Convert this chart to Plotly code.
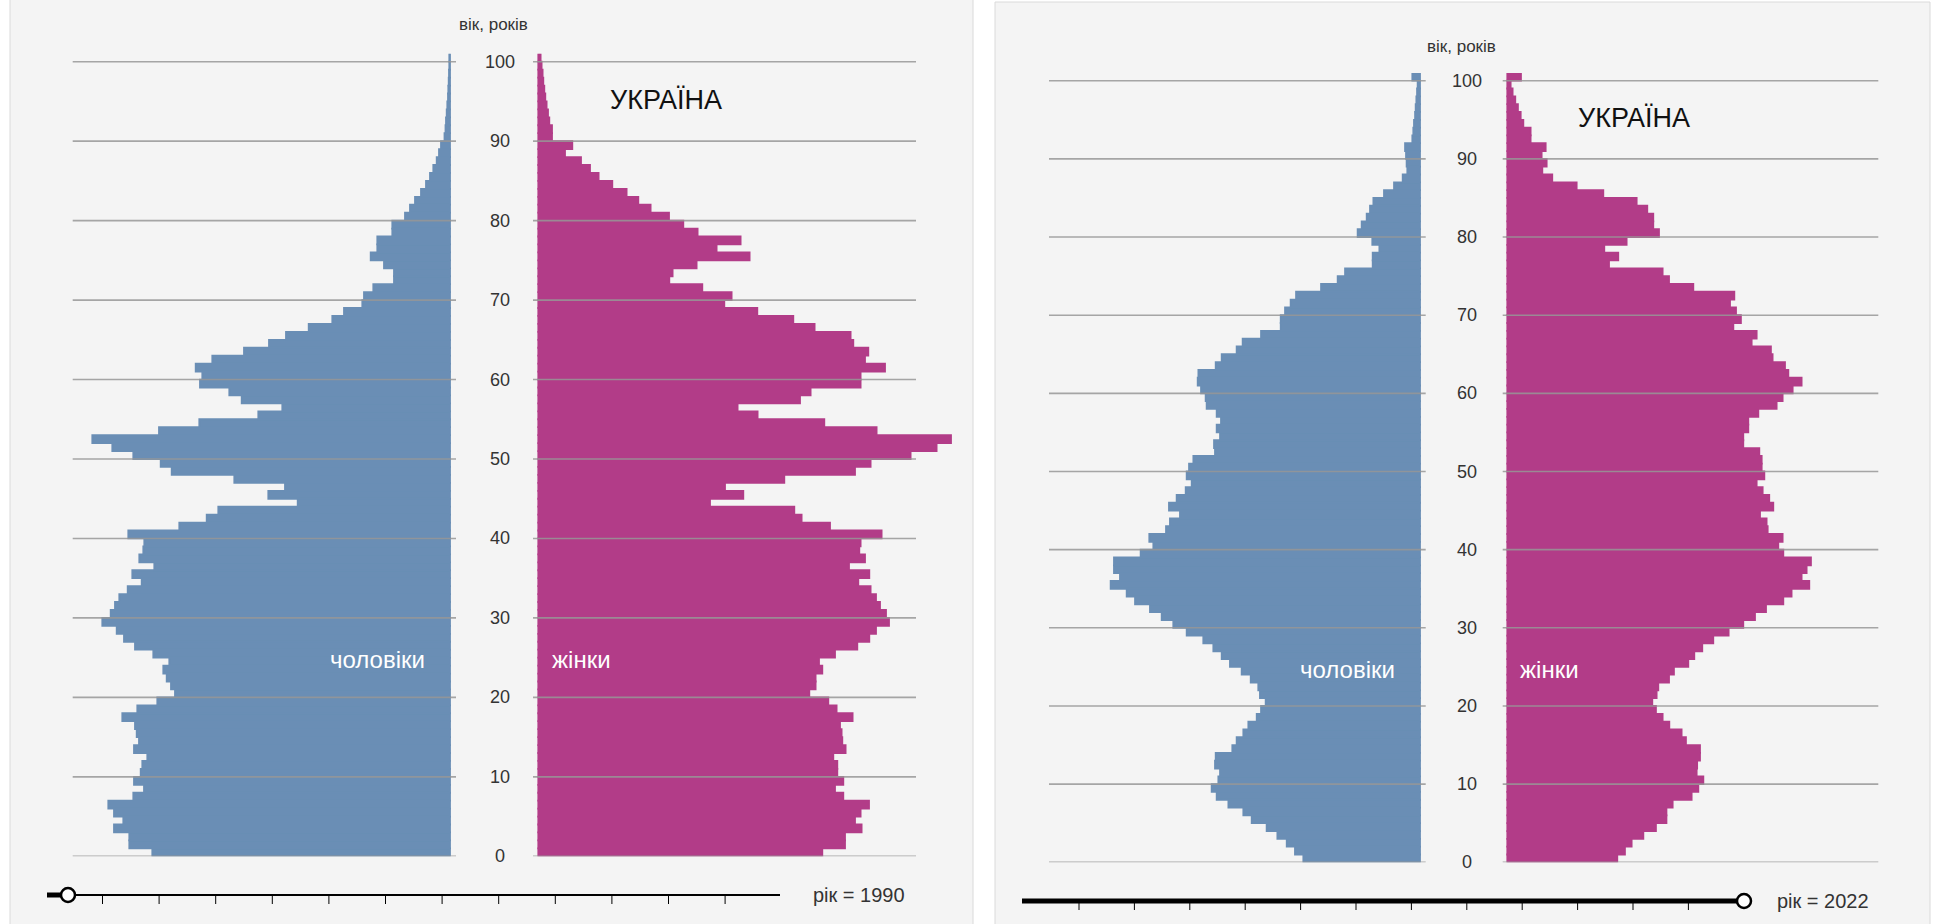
import plotly.graph_objects as go

W, H = 1944, 924

# ---------------- data (thousand persons, by single year of age 0..100) ----------------
ages = list(range(0, 101))
age_ticks = [0, 10, 20, 30, 40, 50, 60, 70, 80, 90, 100]

male_1990 = [297.7, 320.7, 320.7, 336, 326.7, 336, 341.7, 316.7, 306, 316,
             309.3, 307.7, 302.7, 316, 311, 313.3, 315, 327.7, 312.7, 292.7,
             275, 279, 283.3, 286.7, 280.7, 296.7, 315, 326, 333.3, 347.7,
             339.3, 335, 330.7, 322.3, 308.3, 317.7, 295.7, 310.7, 306.7, 305.7,
             321.7, 270.7, 243.3, 231.7, 152.3, 181.7, 165, 215.7, 278.3, 289.3,
             316.7, 337.7, 357.7, 291, 250.7, 191.7, 167.7, 208.3, 220.7, 250,
             247.7, 254.3, 237.7, 206, 181, 164, 141.3, 117.7, 106, 87.7,
             86, 76.7, 56, 56, 66, 79.3, 72.7, 72.7, 57.7, 57.7,
             45, 40, 35, 29, 24, 20, 16.7, 13.3, 11, 9,
             5.5, 4.5, 4, 3.3, 2.7, 2, 1.7, 1.3, 1, 0.7, 0.7]

female_1990 = [284, 306.7, 306.7, 323.3, 316.7, 322.3, 330.7, 305, 296.7, 305,
               299, 299, 295, 307.3, 304, 303.3, 301.7, 314.3, 298.3, 290,
               271, 277.3, 277.3, 284, 280.7, 296.7, 319, 331, 337.7, 350.7,
               347.7, 341.7, 337.7, 332.3, 320, 331, 310.7, 326.7, 321, 322.3,
               343.3, 291.7, 263.3, 256, 171.7, 205, 186.7, 246, 316.7, 332.3,
               372.3, 398.3, 412.7, 338.3, 286, 219.3, 199.3, 261.7, 272.3, 322.3,
               322.3, 346.7, 326.7, 330, 315, 312.3, 276.3, 255, 219, 186,
               193.3, 164, 131, 134.3, 158.3, 211.3, 178.3, 202.3, 159.3, 145,
               130.7, 112.3, 100, 88.3, 74, 60.3, 51.7, 42.7, 26.7, 34,
               13.7, 13.7, 11, 9.7, 8.3, 7, 6, 5, 4.3, 3.3, 2.3]

male_2022 = [118.6, 127.1, 135.5, 145, 155.9, 171.1, 179.6, 194.8, 206.7, 211.8,
             205, 203.3, 208.4, 207.7, 190.8, 186.4, 179.6, 174.5, 166, 161.6,
             156.9, 162.7, 164.4, 172.1, 181.3, 193.2, 201.6, 210.1, 220.3, 237.2,
             250.8, 262.6, 274.5, 289.7, 298.2, 314.5, 305, 311.1, 311.1, 284,
             271.1, 275.2, 258.2, 254.2, 244, 255.2, 247.4, 238.2, 232.1, 237.2,
             234.8, 230.4, 208.4, 209.4, 203.3, 206.7, 202.3, 206.7, 216.9, 217.9,
             222.6, 226, 225.3, 207.7, 201.6, 186.4, 180.3, 161.6, 141.6, 141.6,
             137.2, 131.5, 126, 100.6, 83.7, 76.2, 48.1, 48.1, 41.3, 48.5,
             63.4, 59.3, 54.2, 50.8, 47.4, 36.6, 26.4, 17.6, 12.9, 13.6,
             14.2, 15.2, 7.8, 6.8, 6.1, 5, 4.4, 3.7, 3, 2.4, 7.8]

female_2022 = [111.8, 119.6, 126.4, 138.3, 151.1, 161.8, 161.8, 168.1, 187.4, 194.2,
               199.3, 192.5, 193, 195.9, 195.9, 181.6, 177.2, 164.7, 157.9, 151.1,
               147.4, 151.8, 153.5, 164.4, 169.4, 184, 190.1, 198.2, 209.4, 225,
               239.9, 251.8, 263, 280.6, 289, 307, 299.2, 304.3, 308.7, 280.6,
               275.5, 279.9, 264.7, 263.6, 256.9, 270.4, 266.3, 259.6, 253.5, 261.3,
               258.6, 258.6, 256.2, 239.9, 239.9, 245, 245, 255.2, 273.8, 279.9,
               290.1, 299.2, 285.7, 282.3, 269.7, 268, 248.4, 253.5, 229.8, 237.5,
               232.5, 226.4, 230.8, 189.1, 164.4, 157.9, 103.4, 112.8, 98.6, 121.3,
               154.2, 148.4, 148.4, 142.3, 131.5, 97.6, 70.5, 45.7, 35.6, 40,
               34.9, 39, 23.7, 23.7, 16.3, 13.6, 10.8, 8.1, 5.4, 3.4, 13.9]

years = [1990, 2022]
title_text = "УКРАЇНА"
axis_title = "вік, років"
male_label = "чоловіки"
female_label = "жінки"

# ---------------- styling ----------------
MALE_COLOR = "#6a8eb5"
FEMALE_COLOR = "#b23c88"
GRID_COLOR = "rgba(150,150,150,0.85)"
PANEL_BG = "#f4f4f4"
FONT = "Liberation Sans, Arial, sans-serif"
TEXT = "#333333"


def X(px):
    return px / W


def Y(py):
    return 1 - py / H


fig = go.Figure()

panels = [
    dict(m_grid=(72.7, 456.0), m_dom=(20.0, 456.0), m_zero=450.0,
         f_grid=(533.0, 916.0), f_dom=(533.0, 972.0), f_zero=538.3,
         y_zero=856.3, ppy=7.946, male=male_1990, female=female_1990,
         tick_x=500, ax_title_y=25, title_x=608, lbl_y=659, m_lbl_x=427, f_lbl_x=550,
         title_y=100),
    dict(m_grid=(1049.0, 1425.7), m_dom=(1000.0, 1425.7), m_zero=1420.0,
         f_grid=(1502.7, 1878.3), f_dom=(1502.7, 1928.0), f_zero=1507.3,
         y_zero=862.3, ppy=7.816, male=male_2022, female=female_2022,
         tick_x=1467, ax_title_y=46, title_x=1576, lbl_y=669, m_lbl_x=1397, f_lbl_x=1518,
         title_y=118),
]

base_ppu = 1.0  # px per thousand in the left panel
layout_axes = {}
shapes = []
annotations = []

for i, p in enumerate(panels):
    scale = base_ppu * p["ppy"] / panels[0]["ppy"]
    ytop = p["y_zero"] - 101 * p["ppy"]
    ydom = [Y(p["y_zero"]), Y(ytop)]
    xm, xf = 2 * i + 1, 2 * i + 2
    for k, side in ((xm, "m"), (xf, "f")):
        xname = "xaxis" if k == 1 else f"xaxis{k}"
        yname = "yaxis" if k == 1 else f"yaxis{k}"
        xr = "x" if k == 1 else f"x{k}"
        yr = "y" if k == 1 else f"y{k}"
        dom = p[f"{side}_dom"]
        zero = p[f"{side}_zero"]
        if side == "m":
            rng = [(zero - dom[0]) / scale, -(dom[1] - zero) / scale]
        else:
            rng = [-(zero - dom[0]) / scale, (dom[1] - zero) / scale]
        layout_axes[xname] = dict(domain=[X(dom[0]), X(dom[1])], range=rng,
                                  anchor=yr, showgrid=False, zeroline=False,
                                  showticklabels=False, showline=False, ticks="",
                                  fixedrange=True)
        layout_axes[yname] = dict(domain=ydom, range=[0, 101], anchor=xr,
                                  showgrid=False, zeroline=False, showticklabels=False,
                                  showline=False, ticks="", fixedrange=True)
        vals = p["male"] if side == "m" else p["female"]
        col = MALE_COLOR if side == "m" else FEMALE_COLOR
        fig.add_trace(go.Bar(
            x=vals, y=ages, orientation="h", width=1, offset=0,
            marker=dict(color=col, line=dict(width=1.8, color=col)),
            xaxis=xr, yaxis=yr, showlegend=False, hoverinfo="x+y"))
        # grid lines drawn above the bars
        g0, g1 = p[f"{side}_grid"]
        for t in age_ticks:
            shapes.append(dict(type="line", layer="above", xref="paper", yref=yr,
                               x0=X(g0), x1=X(g1), y0=t, y1=t,
                               line=dict(color=GRID_COLOR, width=1.6)))
    # age tick labels
    yref = "y" if i == 0 else f"y{2 * i + 1}"
    for t in age_ticks:
        annotations.append(dict(text=str(t), x=X(p["tick_x"]), xref="paper",
                                y=t, yref=yref, showarrow=False, xanchor="center",
                                yanchor="middle",
                                font=dict(family=FONT, size=18, color=TEXT)))
    annotations.append(dict(text=axis_title, x=X(p["tick_x"] - 6), y=Y(p["ax_title_y"]),
                            xref="paper", yref="paper", showarrow=False,
                            xanchor="center", yanchor="middle",
                            font=dict(family=FONT, size=17, color=TEXT)))
    annotations.append(dict(text=title_text, x=X(p["title_x"]), y=Y(p["title_y"]),
                            xref="paper", yref="paper", showarrow=False,
                            xanchor="left", yanchor="middle",
                            font=dict(family=FONT, size=27, color="#111111")))
    annotations.append(dict(text=male_label, x=X(p["m_lbl_x"]), y=Y(p["lbl_y"]),
                            xref="paper", yref="paper", showarrow=False,
                            xanchor="right", yanchor="middle",
                            font=dict(family=FONT, size=24, color="white")))
    annotations.append(dict(text=female_label, x=X(p["f_lbl_x"]), y=Y(p["lbl_y"]),
                            xref="paper", yref="paper", showarrow=False,
                            xanchor="left", yanchor="middle",
                            font=dict(family=FONT, size=24, color="white")))

# ---------------- panel frames ----------------
panel_boxes = [(10, -5, 973, 930), (995, 2, 1930, 930)]
for (x0, y0, x1, y1) in panel_boxes:
    shapes.insert(0, dict(type="rect", layer="below", xref="paper", yref="paper",
                          x0=X(x0), x1=X(x1), y0=Y(y1), y1=Y(y0),
                          fillcolor=PANEL_BG, line=dict(color="#dadada", width=1)))

# ---------------- year sliders (decoration) ----------------
sliders = [
    dict(x0=47, x1=780, y=895, knob=68, thick_to=68, tick0=102.5, dtick=56.6,
         label_x=811, year=years[0]),
    dict(x0=1022, x1=1744, y=901, knob=1744, thick_to=1744, tick0=1079, dtick=55.4,
         label_x=1775, year=years[1]),
]
for s in sliders:
    shapes.append(dict(type="line", xref="paper", yref="paper", layer="above",
                       x0=X(s["x0"]), x1=X(s["x1"]), y0=Y(s["y"]), y1=Y(s["y"]),
                       line=dict(color="black", width=2)))
    shapes.append(dict(type="line", xref="paper", yref="paper", layer="above",
                       x0=X(s["x0"]), x1=X(s["thick_to"]), y0=Y(s["y"]), y1=Y(s["y"]),
                       line=dict(color="black", width=5)))
    for j in range(12):
        tx = s["tick0"] + j * s["dtick"]
        shapes.append(dict(type="line", xref="paper", yref="paper", layer="above",
                           x0=X(tx), x1=X(tx), y0=Y(s["y"] + 1), y1=Y(s["y"] + 9),
                           line=dict(color="black", width=1)))
    r = 7
    shapes.append(dict(type="circle", xref="paper", yref="paper", layer="above",
                       x0=X(s["knob"] - r), x1=X(s["knob"] + r),
                       y0=Y(s["y"] + r), y1=Y(s["y"] - r),
                       fillcolor="white", line=dict(color="black", width=2.5)))
    annotations.append(dict(text=f"рік = {s['year']}", x=X(s["label_x"]), y=Y(s["y"]),
                            xref="paper", yref="paper", showarrow=False,
                            xanchor="left", yanchor="middle",
                            font=dict(family=FONT, size=20, color=TEXT)))

fig.update_layout(
    width=W, height=H, margin=dict(l=0, r=0, t=0, b=0, pad=0),
    paper_bgcolor="white", plot_bgcolor="rgba(0,0,0,0)",
    barmode="overlay", showlegend=False,
    shapes=shapes, annotations=annotations,
    **layout_axes,
)

fig.write_html("out.html", config=dict(displayModeBar=False))
